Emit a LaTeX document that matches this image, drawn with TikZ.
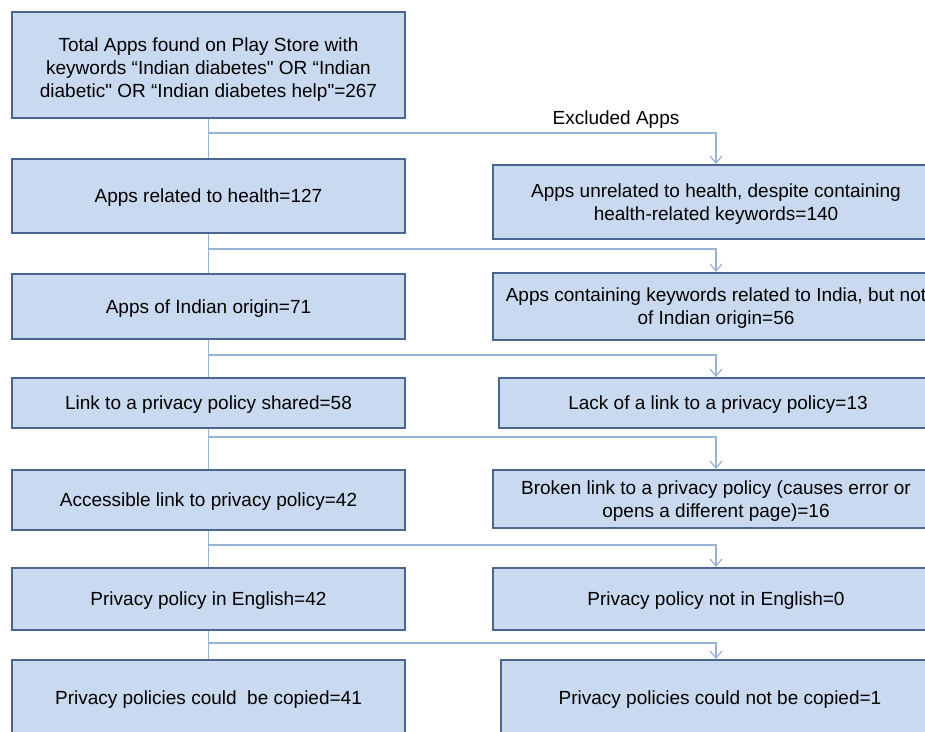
\documentclass[tikz,border=0pt]{standalone}
\usepackage{fontspec}
\setmainfont{Liberation Sans}
\usetikzlibrary{arrows.meta}
\definecolor{boxfill}{HTML}{C9DAF0}
\definecolor{boxdraw}{HTML}{4A6590}
\definecolor{linkc}{HTML}{9AB3D5}
\begin{document}
\begin{tikzpicture}[x=1pt,y=-1pt,
 box/.style={draw=boxdraw, line width=2.2pt, fill=boxfill, align=center, font=\fontsize{19}{23}\selectfont, inner sep=0pt, text depth=0pt},
 lbox/.style={box, minimum width=393},
 rbox/.style={box, minimum width=446},
 lbl/.style={font=\fontsize{19}{23}\selectfont, inner sep=0pt},
 link/.style={draw=linkc, line width=1.2pt},
 arr/.style={link, -{Straight Barb[length=7pt,width=12pt]}}]
\useasboundingbox (0,0) rectangle (925,731);
\clip (0,0) rectangle (925,731);
% left column
\node[lbox, minimum height=106] (l1) at (208.5,65) {\rule{0pt}{19pt}Total Apps found on Play Store with\\keywords “Indian diabetes\textquotedbl{} OR “Indian\\diabetic\textquotedbl{} OR “Indian diabetes help\textquotedbl=267};
\node[lbox, minimum height=74] (l2) at (208.5,196) {Apps related to health=127};
\node[lbox, minimum height=65] (l3) at (208.5,306.5) {Apps of Indian origin=71};
\node[lbox, minimum height=50] (l4) at (208.5,403) {Link to a privacy policy shared=58};
\node[lbox, minimum height=60] (l5) at (208.5,500) {Accessible link to privacy policy=42};
\node[lbox, minimum height=62] (l6) at (208.5,599) {Privacy policy in English=42};
\node[lbox, minimum height=76] (l7) at (208.5,698) {Privacy policies could\ \ be copied=41};
% right column
\node[rbox, minimum height=74] (r1) at (716,202) {Apps unrelated to health, despite containing\\health-related keywords=140};
\node[rbox, minimum height=67] (r2) at (716,306.5) {Apps containing keywords related to India, but not\\of Indian origin=56};
\node[rbox, minimum height=50, minimum width=438] (r3) at (718,403) {Lack of a link to a privacy policy=13};
\node[rbox, minimum height=58] (r4) at (716,499) {Broken link to a privacy policy (causes error or\\opens a different page)=16};
\node[rbox, minimum height=62] (r5) at (716,599) {Privacy policy not in English=0};
\node[rbox, minimum height=76, minimum width=438] (r6) at (720,698) {Privacy policies could not be copied=1};
% label
\node[lbl] (ex) at (616,120) {Excluded Apps};
% branch points
\coordinate (b1) at (208.5,133);
\coordinate (b2) at (208.5,249);
\coordinate (b3) at (208.5,355);
\coordinate (b4) at (208.5,437);
\coordinate (b5) at (208.5,545);
\coordinate (b6) at (208.5,643);
% vertical trunk
\draw[link] (l1.south) -- (l2.north);
\draw[link] (l2.south) -- (l3.north);
\draw[link] (l3.south) -- (l4.north);
\draw[link] (l4.south) -- (l5.north);
\draw[link] (l5.south) -- (l6.north);
\draw[link] (l6.south) -- (l7.north);
% branches
\draw[arr] (b1) -| (r1.north);
\draw[arr] (b2) -| (r2.north);
\draw[arr] (b3) -| ([xshift=-2pt]r3.north);
\draw[arr] (b4) -| (r4.north);
\draw[arr] (b5) -| (r5.north);
\draw[arr] (b6) -| ([xshift=-4pt]r6.north);
\end{tikzpicture}
\end{document}
